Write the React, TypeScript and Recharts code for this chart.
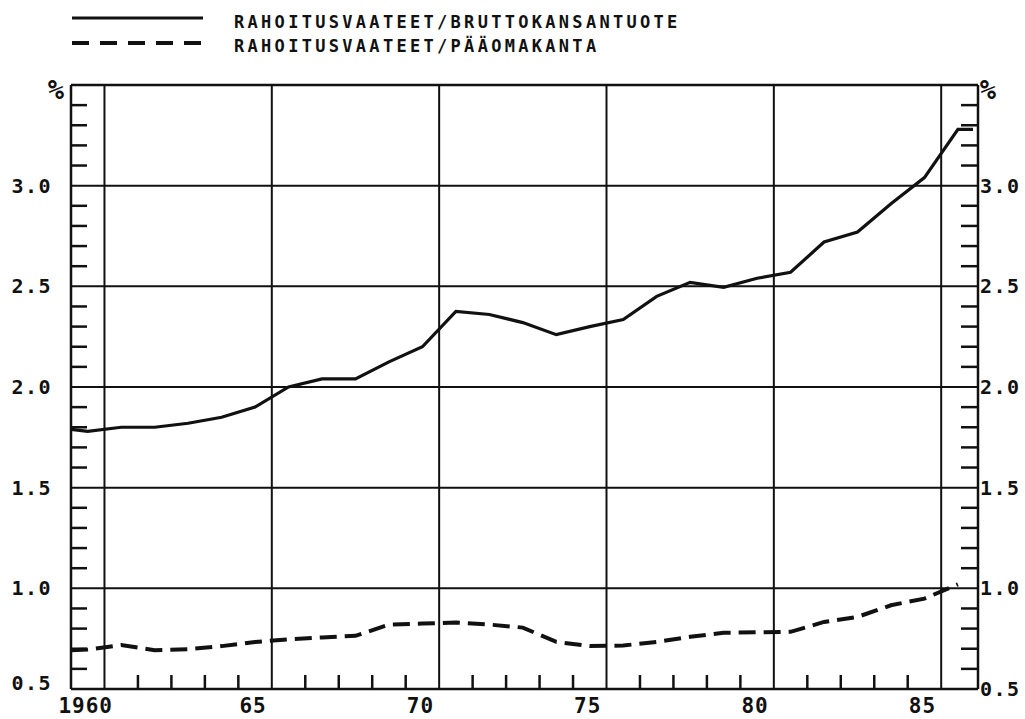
import { LineChart, Line, XAxis, YAxis, ReferenceLine } from "recharts";

// Rahoitusvaateet suhteessa BKT:hen ja pääomakantaan, 1960-1986
const YEARS = [
  1960, 1961, 1962, 1963, 1964, 1965, 1966, 1967, 1968, 1969, 1970, 1971, 1972,
  1973, 1974, 1975, 1976, 1977, 1978, 1979, 1980, 1981, 1982, 1983, 1984, 1985,
  1986,
];
const GDP_RATIO = [
  1.78, 1.8, 1.8, 1.82, 1.85, 1.9, 2.0, 2.04, 2.04, 2.125, 2.2, 2.375, 2.36,
  2.32, 2.26, 2.3, 2.335, 2.45, 2.52, 2.495, 2.54, 2.57, 2.72, 2.77, 2.91, 3.04,
  3.28,
];
const CAPITAL_RATIO = [
  0.696, 0.718, 0.693, 0.698, 0.713, 0.733, 0.747, 0.756, 0.764, 0.82, 0.825,
  0.83, 0.82, 0.805, 0.734, 0.713, 0.716, 0.734, 0.759, 0.779, 0.782, 0.784,
  0.833, 0.858, 0.916, 0.949, 1.02,
];
// plotter draws a short flat piece at the ends of the curves
const EDGE_YEARS = [1959.5, 1986.45];
const GDP_EDGE = [1.79, 3.28];
const CAPITAL_EDGE = [0.693];

const LEGEND = [
  { label: "RAHOITUSVAATEET/BRUTTOKANSANTUOTE", dash: undefined },
  { label: "RAHOITUSVAATEET/PÄÄOMAKANTA", dash: "17 11" },
];

const X_LABELS = [1960, 1965, 1970, 1975, 1980, 1985];
const X_GRID = [1960.5, 1965.5, 1970.5, 1975.5, 1980.5, 1985.5];
const Y_GRID = [1.0, 1.5, 2.0, 2.5, 3.0];

// frame in page pixels
const LEFT = 71;
const RIGHT = 978;
const TOP = 85;
const BOTTOM = 689;
const W = 1025;
const H = 719;

const FONT = "'DejaVu Sans Mono', monospace";
const INK = "#111";

const rows: { year: number; gdp?: number; cap?: number }[] = [
  { year: EDGE_YEARS[0], gdp: GDP_EDGE[0], cap: CAPITAL_EDGE[0] },
  ...YEARS.map((y, i) => ({ year: y, gdp: GDP_RATIO[i], cap: CAPITAL_RATIO[i] })),
  { year: EDGE_YEARS[1], gdp: GDP_EDGE[1] },
];

const minorX: number[] = [];
for (let y = 1960.5; y < 1986; y += 1) {
  if (!X_GRID.includes(y)) minorX.push(y);
}
const xTicks = [...X_LABELS, ...minorX].sort((a, b) => a - b);

const yTicks: number[] = [];
for (let i = 5; i <= 35; i++) yTicks.push(i / 10);

function XTick(props: any) {
  const v = props.payload.value;
  const x = props.x;
  if (X_LABELS.includes(v)) {
    const txt = v === 1960 ? "1960" : String(v).slice(2);
    return (
      <text x={x - 2} y={713} textAnchor="middle" fontFamily={FONT} fontSize={21} fontWeight="bold" letterSpacing={1} fill={INK}>
        {txt}
      </text>
    );
  }
  return <line x1={x} x2={x} y1={BOTTOM} y2={BOTTOM - 14} stroke={INK} strokeWidth={2.5} />;
}

function makeYTick(side: "left" | "right") {
  return (props: any) => {
    const v = Math.round(props.payload.value * 10) / 10;
    const y = props.y;
    if (v === 3.5) {
      return (
        <text x={side === "left" ? 56 : 988} y={y + 4} textAnchor="middle" dominantBaseline="central" fontFamily={FONT} fontSize={27} fontWeight="bold" fill={INK}>
          %
        </text>
      );
    }
    if (Math.round(v * 10) % 5 === 0) {
      const dy = side === "left" && v === 0.5 ? -6 : 0;
      return (
        <text
          x={side === "left" ? 52 : 980}
          y={y + dy}
          textAnchor={side === "left" ? "end" : "start"}
          dominantBaseline="central"
          fontFamily={FONT}
          fontSize={20}
          fontWeight="bold"
          letterSpacing={1.5}
          fill={INK}
        >
          {v.toFixed(1)}
        </text>
      );
    }
    const x0 = side === "left" ? LEFT : RIGHT;
    const x1 = side === "left" ? LEFT + 16 : RIGHT - 17;
    return <line x1={x0} x2={x1} y1={y} y2={y} stroke={INK} strokeWidth={2.5} />;
  };
}

export default function App() {
  return (
    <div style={{ position: "absolute", left: 0, top: 0, width: W, height: H, background: "#fff" }}>
      <svg width={W} height={80} style={{ position: "absolute", left: 0, top: 0 }}>
        {LEGEND.map((l, i) => (
          <g key={l.label}>
            <line x1={72} x2={203} y1={18 + i * 25} y2={18 + i * 25} stroke={INK} strokeWidth={i === 0 ? 3 : 4} strokeDasharray={l.dash} />
            <text x={234} y={28 + i * 24} fontFamily={FONT} fontSize={17} fontWeight="bold" letterSpacing={3.3} fill={INK}>
              {l.label}
            </text>
          </g>
        ))}
      </svg>
      <div style={{ position: "absolute", left: 0, top: 0 }}>
        <LineChart width={W} height={H} data={rows} margin={{ top: TOP, left: 0, right: 0, bottom: 0 }}>
          <XAxis
            dataKey="year"
            type="number"
            domain={[1959.5, 1986.6]}
            allowDataOverflow
            ticks={xTicks}
            interval={0}
            height={H - BOTTOM}
            tick={XTick}
            tickLine={false}
            axisLine={{ stroke: INK, strokeWidth: 2.5 }}
          />
          <YAxis
            yAxisId="left"
            type="number"
            domain={[0.5, 3.5]}
            allowDataOverflow
            ticks={yTicks}
            interval={0}
            width={LEFT}
            tick={makeYTick("left")}
            tickLine={false}
            axisLine={{ stroke: INK, strokeWidth: 2.5 }}
          />
          <YAxis
            yAxisId="right"
            orientation="right"
            type="number"
            domain={[0.5, 3.5]}
            allowDataOverflow
            ticks={yTicks}
            interval={0}
            width={W - RIGHT}
            tick={makeYTick("right")}
            tickLine={false}
            axisLine={{ stroke: INK, strokeWidth: 2.5 }}
          />
          {Y_GRID.map((v) => (
            <ReferenceLine key={"y" + v} yAxisId="left" y={v} stroke={INK} strokeWidth={2} />
          ))}
          <ReferenceLine yAxisId="left" y={3.5} stroke={INK} strokeWidth={2.5} />
          {X_GRID.map((v) => (
            <ReferenceLine key={"x" + v} yAxisId="left" x={v} stroke={INK} strokeWidth={2} />
          ))}
          <Line
            yAxisId="left"
            dataKey="gdp"
            type="linear"
            stroke={INK}
            strokeWidth={3.2}
            dot={false}
            isAnimationActive={false}
          />
          <Line
            yAxisId="right"
            dataKey="cap"
            type="linear"
            stroke={INK}
            strokeWidth={4}
            strokeDasharray="17 8"
            dot={false}
            isAnimationActive={false}
          />
        </LineChart>
      </div>
    </div>
  );
}
